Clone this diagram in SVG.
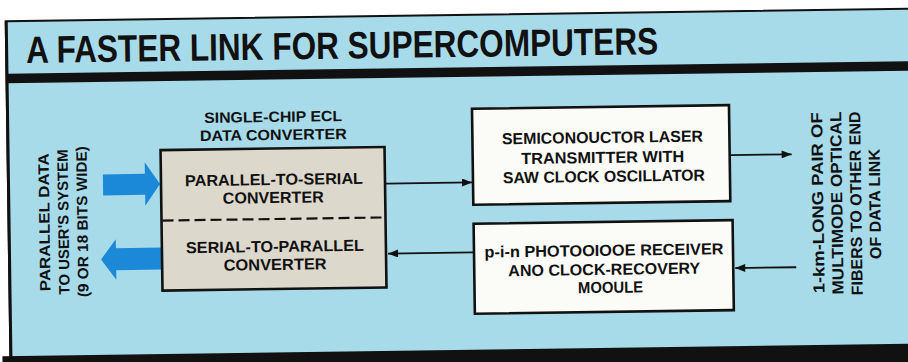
<svg xmlns="http://www.w3.org/2000/svg" width="908" height="362" viewBox="0 0 908 362">
<defs>
<style>
.t{font-family:"Liberation Sans","Arial",sans-serif;font-weight:bold;fill:#111;}
.box{stroke:#111;stroke-width:2.6;}
.ln{stroke:#111;stroke-width:1.8;fill:none;}
.blue{fill:#1c88d8;}
</style>
<marker id="ah" viewBox="0 0 10 8" refX="10" refY="4" markerWidth="11" markerHeight="8" markerUnits="userSpaceOnUse" orient="auto">
<path d="M0,0 L10,4 L0,8 Z" fill="#111"/>
</marker>
</defs>
<rect x="0" y="0" width="908" height="362" fill="#fff"/>
<g transform="rotate(-0.8 454 181)">
<g id="frame">
<rect x="8" y="15" width="920" height="360" fill="#a8dbea" stroke="#111" stroke-width="2"/>
<rect x="8" y="67.5" width="920" height="9.5" fill="#111"/>
<rect x="0" y="350" width="930" height="20" fill="#111"/>
<line x1="8.5" y1="15" x2="8.5" y2="352" stroke="#111" stroke-width="3"/>
<text class="t" x="28" y="57" font-size="38" font-weight="900" textLength="632" lengthAdjust="spacingAndGlyphs">A FASTER LINK FOR SUPERCOMPUTERS</text>
</g>
<g id="user-label" class="t" font-size="15" text-anchor="middle">
<text transform="translate(49 216.5) rotate(-90)" textLength="138" lengthAdjust="spacingAndGlyphs">PARALLEL DATA</text>
<text transform="translate(68 216.5) rotate(-90)" textLength="145" lengthAdjust="spacingAndGlyphs">TO USER'S SYSTEM</text>
<text transform="translate(87 216.5) rotate(-90)" textLength="151" lengthAdjust="spacingAndGlyphs">(9 OR 18 BITS WIDE)</text>
</g>
<g id="arrow-in">
<polygon class="blue" points="103,169.5 145,169.5 145,158 160,180 145,201.5 145,190.5 103,190.5"/>
</g>
<g id="arrow-out">
<polygon class="blue" points="161,243.5 115,243.5 115,234.5 100,254.5 115,275 115,265.5 161,265.5"/>
</g>
<g id="ecl-converter">
<text class="t" font-size="15" x="274" y="119.5" text-anchor="middle" textLength="138" lengthAdjust="spacingAndGlyphs">SINGLE-CHIP ECL</text>
<text class="t" font-size="15" x="274" y="137.5" text-anchor="middle" textLength="147" lengthAdjust="spacingAndGlyphs">DATA CONVERTER</text>
<rect class="box" x="161" y="146" width="224" height="140.5" fill="#dcd8cc"/>
<line x1="162" y1="216.5" x2="384" y2="216.5" stroke="#111" stroke-width="2.2" stroke-dasharray="11 5"/>
<text class="t" font-size="16" x="274" y="182.5" text-anchor="middle" textLength="178" lengthAdjust="spacingAndGlyphs">PARALLEL-TO-SERIAL</text>
<text class="t" font-size="16" x="273" y="200.5" text-anchor="middle" textLength="101" lengthAdjust="spacingAndGlyphs">CONVERTER</text>
<text class="t" font-size="16" x="274" y="249.5" text-anchor="middle" textLength="178" lengthAdjust="spacingAndGlyphs">SERIAL-TO-PARALLEL</text>
<text class="t" font-size="16" x="274" y="267.5" text-anchor="middle" textLength="103" lengthAdjust="spacingAndGlyphs">CONVERTER</text>
</g>
<g id="laser-transmitter">
<rect class="box" x="473" y="109" width="257" height="96" fill="#fbfbf7"/>
<text class="t" font-size="16" x="603" y="145" text-anchor="middle" textLength="201" lengthAdjust="spacingAndGlyphs">SEMICONOUCTOR LASER</text>
<text class="t" font-size="16" x="603" y="165" text-anchor="middle" textLength="163" lengthAdjust="spacingAndGlyphs">TRANSMITTER WITH</text>
<text class="t" font-size="16" x="604" y="184" text-anchor="middle" textLength="202" lengthAdjust="spacingAndGlyphs">SAW CLOCK OSCILLATOR</text>
</g>
<g id="photodiode-receiver">
<rect class="box" x="473" y="224" width="259" height="90" fill="#fbfbf7"/>
<text class="t" font-size="16" x="603" y="258" text-anchor="middle" textLength="239" lengthAdjust="spacingAndGlyphs">p-i-n PHOTOOIOOE RECEIVER</text>
<text class="t" font-size="16" x="603" y="277" text-anchor="middle" textLength="192" lengthAdjust="spacingAndGlyphs">ANO CLOCK-RECOVERY</text>
<text class="t" font-size="16" x="609" y="295" text-anchor="middle" textLength="65" lengthAdjust="spacingAndGlyphs">MOOULE</text>
</g>
<g id="fiber-label" class="t" font-size="16" text-anchor="middle">
<text transform="translate(823 208) rotate(-90)" textLength="181" lengthAdjust="spacingAndGlyphs">1-km-LONG PAIR OF</text>
<text transform="translate(842 208.5) rotate(-90)" textLength="183" lengthAdjust="spacingAndGlyphs">MULTIMODE OPTICAL</text>
<text transform="translate(861 209) rotate(-90)" textLength="184" lengthAdjust="spacingAndGlyphs">FIBERS TO OTHER END</text>
<text transform="translate(880 210) rotate(-90)" textLength="110" lengthAdjust="spacingAndGlyphs">OF DATA LINK</text>
</g>
<g id="connectors">
<line class="ln" x1="386" y1="182.7" x2="472" y2="182.7" marker-end="url(#ah)"/>
<line class="ln" x1="472" y1="252.7" x2="387" y2="252.7" marker-end="url(#ah)"/>
<line class="ln" x1="731" y1="159" x2="792" y2="159" marker-end="url(#ah)"/>
<line class="ln" x1="795" y1="272" x2="734" y2="272" marker-end="url(#ah)"/>
</g>
</g>
</svg>
